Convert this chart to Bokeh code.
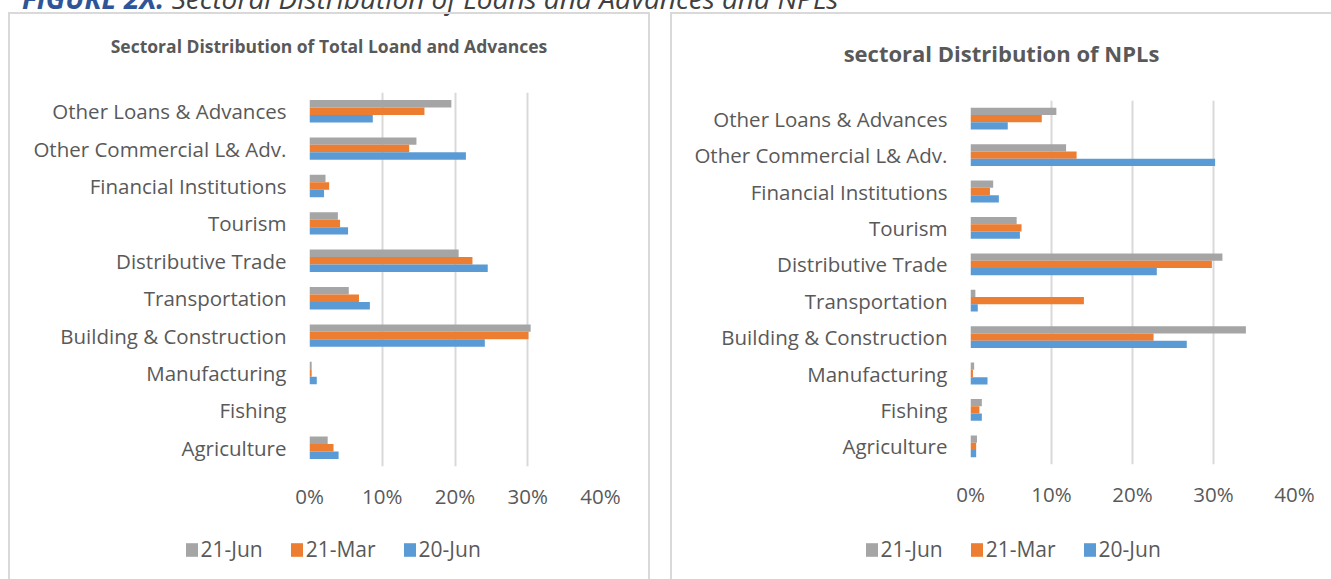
from bokeh.plotting import figure
from bokeh.models import (ColumnDataSource, FactorRange, Range1d, FixedTicker,
                          Legend, LegendItem, Div)
from bokeh.layouts import row, column
from bokeh.transform import dodge
from bokeh.embed import file_html
from bokeh.resources import INLINE

# ---- data (top to bottom as shown) ----
categories = ["Other Loans & Advances", "Other Commercial L& Adv.", "Financial Institutions",
              "Tourism", "Distributive Trade", "Transportation", "Building & Construction",
              "Manufacturing", "Fishing", "Agriculture"]
series_names = ["21-Jun", "21-Mar", "20-Jun"]

loans_jun21 = [19.5, 14.7, 2.2, 3.9, 20.5, 5.4, 30.4, 0.3, 0.0, 2.5]
loans_mar21 = [15.8, 13.7, 2.7, 4.2, 22.4, 6.8, 30.1, 0.3, 0.0, 3.3]
loans_jun20 = [8.7, 21.5, 2.0, 5.3, 24.5, 8.3, 24.1, 1.0, 0.0, 4.0]

npl_jun21 = [10.6, 11.8, 2.8, 5.7, 31.1, 0.6, 34.0, 0.45, 1.4, 0.8]
npl_mar21 = [8.8, 13.1, 2.4, 6.3, 29.8, 14.0, 22.6, 0.3, 1.1, 0.7]
npl_jun20 = [4.6, 30.2, 3.5, 6.1, 23.0, 0.9, 26.7, 2.1, 1.4, 0.7]

tick_values = [0, 10, 20, 30, 40]
tick_labels = ["0%", "10%", "20%", "30%", "40%"]

COLORS = ["#A5A5A5", "#ED7D31", "#5B9BD5"]
TXT = "#595959"
GRID = "#D9D9D9"
FONT = "Open Sans"
BORDER = "2px solid #D9D9D9"


def make_fig(src, width, height, bl, br, bb):
    p = figure(width=width, height=height, y_range=FactorRange(*categories[::-1]),
               x_range=Range1d(0, 40), output_backend="svg", toolbar_location=None,
               min_border_left=bl, min_border_right=br, min_border_top=0,
               min_border_bottom=bb)
    p.outline_line_color = None
    offsets = [0.2, 0.0, -0.2]
    for i, key in enumerate(["s0", "s1", "s2"]):
        p.hbar(y=dodge("cat", offsets[i], range=p.y_range), left=0, right=key,
               height=0.2, source=src, fill_color=COLORS[i], line_color=None)
    p.ygrid.grid_line_color = None
    p.xgrid.grid_line_color = GRID
    p.xgrid.grid_line_width = 2
    p.xaxis.ticker = FixedTicker(ticks=tick_values)
    p.xaxis.major_label_overrides = {v: l for v, l in zip(tick_values, tick_labels)}
    for ax in (p.xaxis[0], p.yaxis[0]):
        ax.axis_line_color = None
        ax.major_tick_line_color = None
        ax.minor_tick_line_color = None
        ax.major_tick_out = 0
        ax.major_tick_in = 0
        ax.major_label_text_color = TXT
        ax.major_label_text_font = FONT
    p.xaxis.major_label_text_font_size = "20.5px"
    p.xaxis.major_label_standoff = 15
    p.yaxis.major_label_text_font_size = "20.5px"
    p.yaxis.major_label_standoff = 23
    return p


def make_legend_fig(src, width, height, lx, ly):
    # same bars, but with an x range that keeps them out of view: only the legend shows
    lf = figure(width=width, height=height, x_range=Range1d(-2, -1),
                y_range=FactorRange(*categories[::-1]),
                output_backend="svg", toolbar_location=None, min_border=0,
                x_axis_location=None, y_axis_location=None, frame_align=False)
    lf.outline_line_color = None
    lf.grid.visible = False
    rs = [lf.hbar(y="cat", left=0, right=key, height=0.2, source=src,
                  fill_color=c, line_color=None)
          for key, c in zip(["s0", "s1", "s2"], COLORS)]
    legend = Legend(items=[LegendItem(label=n, renderers=[r]) for n, r in zip(series_names, rs)],
                    orientation="horizontal", location=(lx, ly),
                    border_line_color=None, background_fill_alpha=0,
                    padding=0, margin=0, spacing=26, glyph_width=15, glyph_height=17,
                    label_standoff=2, label_text_font=FONT, label_text_font_size="21px",
                    label_text_color=TXT)
    lf.add_layout(legend)
    return lf


def make_title(text, size, width, height, line_h):
    return Div(text=text, width=width, height=height, margin=0,
               styles={"font-family": FONT, "font-weight": "bold", "font-size": size,
                       "color": TXT, "text-align": "center", "line-height": line_h,
                       "white-space": "nowrap"})


src1 = ColumnDataSource(dict(cat=categories, s0=loans_jun21, s1=loans_mar21, s2=loans_jun20))
src2 = ColumnDataSource(dict(cat=categories, s0=npl_jun21, s1=npl_mar21, s2=npl_jun20))

# left panel
t1 = make_title("Sectoral Distribution of Total Loand and Advances", "17.5px", 638, 78, "64px")
p1 = make_fig(src1, 638, 428, 299, 48, 54)
l1 = make_legend_fig(src1, 638, 59, 173.5, 16)
panel1 = column(t1, p1, l1, spacing=0, margin=(0, 0, 0, 8),
                styles={"border-top": BORDER, "border-left": BORDER, "border-right": BORDER})

# right panel
t2 = make_title("sectoral Distribution of NPLs", "22px", 659, 86, "78px")
p2 = make_fig(src2, 659, 420, 298, 37, 56)
l2 = make_legend_fig(src2, 659, 59, 191.5, 16)
panel2 = column(t2, p2, l2, spacing=0, margin=0,
                styles={"border-top": BORDER, "border-left": BORDER})

caption = Div(text='<span style="color:#2E5597;font-weight:bold;font-style:italic">FIGURE 2X:</span>'
                   ' <span style="color:#404040;font-style:italic">Sectoral Distribution of Loans and Advances and NPLs</span>',
              width=1300, height=23, margin=(-11, 0, 0, 22),
              styles={"font-family": "Open Sans", "font-size": "28px", "line-height": "18px",
                      "white-space": "nowrap"})

layout = column(caption, row(panel1, panel2, spacing=20), spacing=0)

open("out.html", "w").write(file_html(layout, INLINE))
